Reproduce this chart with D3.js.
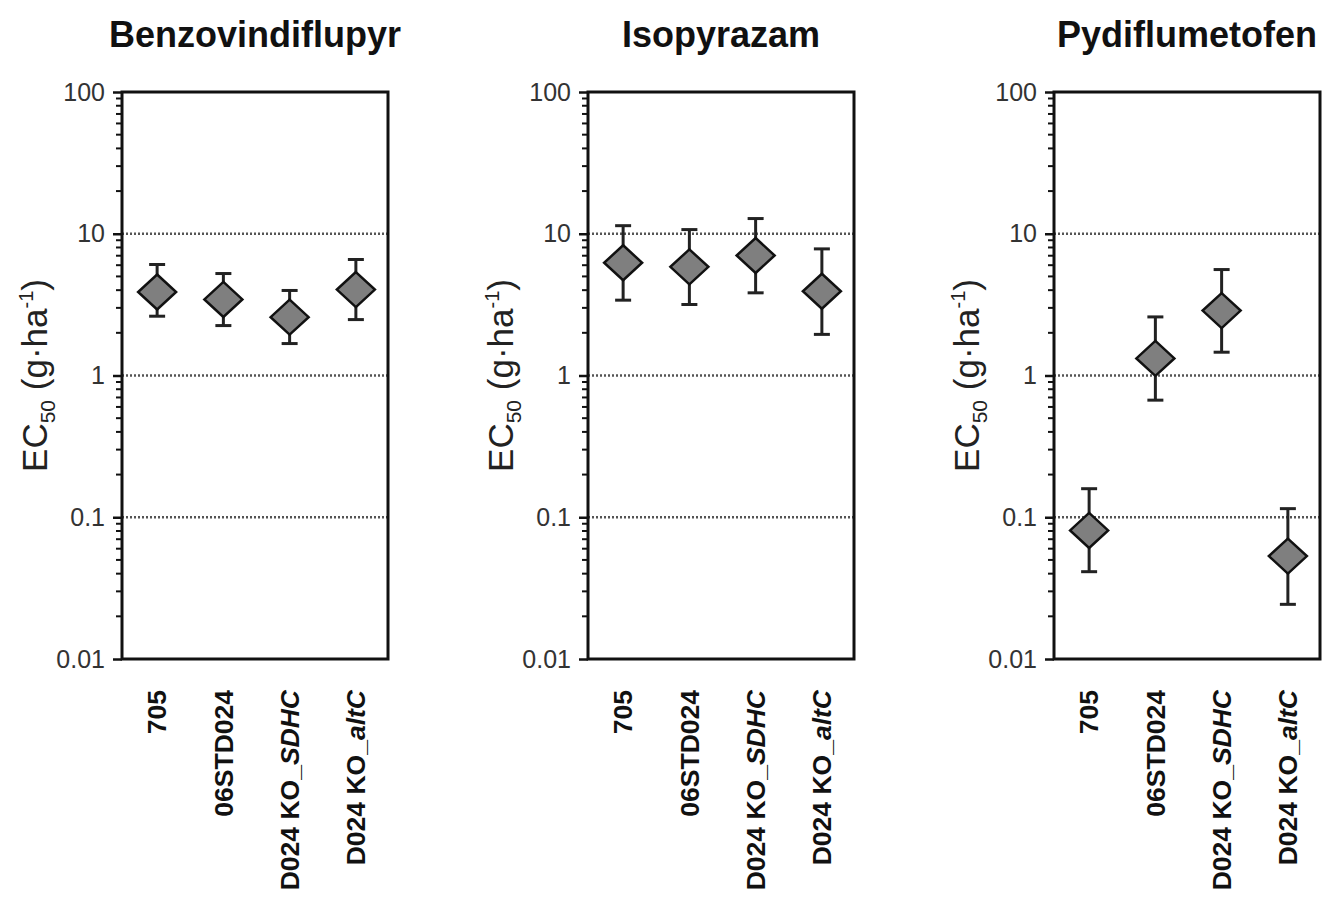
<!DOCTYPE html>
<html>
<head>
<meta charset="utf-8">
<script src="https://cdn.jsdelivr.net/npm/d3@7"></script>
<style>
    body { margin: 0; background: #fff; }
    text { font-family: "Liberation Sans", Arial, sans-serif; }
</style>
</head>
<body>
<div id="chart"></div>
<script>
// data
const strainsPlain = ["705", "06STD024", "D024 KO_", "D024 KO_"]
const strainsItalic = ["", "", "SDHC", "altC"]
const fungicides = ["Benzovindiflupyr", "Isopyrazam", "Pydiflumetofen"]
const yTicks = [0.01, 0.1, 1, 10, 100]
const gridValues = [0.1, 1, 10]

const benzoEC50 = [3.88, 3.44, 2.58, 4.04]
const benzoUpper = [6.07, 5.24, 3.98, 6.58]
const benzoLower = [2.62, 2.25, 1.68, 2.48]

const isoEC50 = [6.24, 5.84, 7.02, 3.93]
const isoUpper = [11.4, 10.7, 12.8, 7.82]
const isoLower = [3.4, 3.17, 3.83, 1.95]

const pydiEC50 = [0.0807, 1.32, 2.87, 0.0532]
const pydiUpper = [0.159, 2.59, 5.59, 0.115]
const pydiLower = [0.0413, 0.67, 1.46, 0.0243]

const panelData = [
    {ec50: benzoEC50, upper: benzoUpper, lower: benzoLower},
    {ec50: isoEC50, upper: isoUpper, lower: isoLower},
    {ec50: pydiEC50, upper: pydiUpper, lower: pydiLower},
]

//dimensions
const dimensions = {
    width: 1324,
    height: 899,
    plotWidth: 266,
    plotHeight: 567,
    top: 92,
    lefts: [122, 588, 1054],
}

const svg = d3.select("#chart")
    .append("svg")
    .attr("width", dimensions.width)
    .attr("height", dimensions.height)

//scales
const yScale = d3.scaleLog()
    .domain([0.01, 100])
    .range([dimensions.plotHeight, 0])
const xScale = d3.scalePoint()
    .domain(d3.range(strainsPlain.length))
    .range([2, 267])
    .padding(0.5)

// minor ticks 2..9 for every decade
const minorTicks = []
for (let decade of [0.01, 0.1, 1, 10]) {
    for (let m = 2; m <= 9; m++) minorTicks.push(decade * m)
}

fungicides.forEach((name, i) => {
    const g = svg.append("g")
        .attr("transform", "translate(" + dimensions.lefts[i] + "," + dimensions.top + ")")
    const data = panelData[i]

    // title
    g.append("text")
        .attr("x", dimensions.plotWidth / 2)
        .attr("y", 47 - dimensions.top)
        .attr("text-anchor", "middle")
        .attr("font-size", 36)
        .attr("font-weight", "bold")
        .attr("fill", "#111")
        .text(name)

    // grid
    g.selectAll(".grid")
        .data(gridValues)
        .join("line")
        .attr("x1", 0)
        .attr("x2", dimensions.plotWidth)
        .attr("y1", d => yScale(d))
        .attr("y2", d => yScale(d))
        .attr("stroke", "#555")
        .attr("stroke-width", 2.5)
        .attr("stroke-dasharray", "2,2")

    // y axis
    const yAxis = g.append("g")
        .call(d3.axisLeft(yScale).tickValues(yTicks).tickFormat(d3.format("~g")).tickSize(9).tickPadding(8))
    yAxis.select(".domain").remove()
    yAxis.selectAll(".tick line").attr("stroke", "#111").attr("stroke-width", 2.5)
    yAxis.selectAll(".tick text")
        .attr("font-size", 25)
        .attr("fill", "#333")
        .attr("font-family", "Liberation Sans, Arial, sans-serif")
    g.selectAll(".minor")
        .data(minorTicks)
        .join("line")
        .attr("x1", -6)
        .attr("x2", 0)
        .attr("y1", d => yScale(d))
        .attr("y2", d => yScale(d))
        .attr("stroke", "#111")
        .attr("stroke-width", 2)

    // y label
    const yLabel = g.append("text")
        .attr("transform", "translate(-75," + (dimensions.plotHeight / 2) + ") rotate(-90)")
        .attr("text-anchor", "middle")
        .attr("font-size", 35)
        .attr("fill", "#222")
    yLabel.append("tspan").text("EC")
    yLabel.append("tspan").attr("font-size", 21).attr("dy", 8).text("50")
    yLabel.append("tspan").attr("dy", -8).text(" (g·ha")
    yLabel.append("tspan").attr("font-size", 20).attr("dy", -14).text("-1")
    yLabel.append("tspan").attr("dy", 14).text(")")

    // error bars
    const idx = d3.range(data.ec50.length)
    g.selectAll(".err")
        .data(idx)
        .join("line")
        .attr("x1", d => xScale(d))
        .attr("x2", d => xScale(d))
        .attr("y1", d => yScale(data.upper[d]))
        .attr("y2", d => yScale(data.lower[d]))
        .attr("stroke", "#222")
        .attr("stroke-width", 3)
    for (let key of ["upper", "lower"]) {
        g.selectAll(".cap-" + key)
            .data(idx)
            .join("line")
            .attr("x1", d => xScale(d) - 8)
            .attr("x2", d => xScale(d) + 8)
            .attr("y1", d => yScale(data[key][d]))
            .attr("y2", d => yScale(data[key][d]))
            .attr("stroke", "#222")
            .attr("stroke-width", 3)
    }

    // diamonds
    g.selectAll(".diamond")
        .data(idx)
        .join("path")
        .attr("transform", d => "translate(" + xScale(d) + "," + yScale(data.ec50[d]) + ")")
        .attr("d", "M0,-17.5L19,0L0,17.5L-19,0Z")
        .attr("fill", "#7f7f7f")
        .attr("stroke", "#111")
        .attr("stroke-width", 2.5)
        .attr("stroke-linejoin", "miter")

    // frame
    g.append("rect")
        .attr("width", dimensions.plotWidth)
        .attr("height", dimensions.plotHeight)
        .attr("fill", "none")
        .attr("stroke", "#111")
        .attr("stroke-width", 3)

    // x labels
    idx.forEach(d => {
        const t = g.append("text")
            .attr("transform", "translate(" + xScale(d) + "," + (dimensions.plotHeight + 31) + ") rotate(-90)")
            .attr("text-anchor", "end")
            .attr("dy", "0.35em")
            .attr("font-size", 26.5)
            .attr("font-weight", "bold")
            .attr("fill", "#111")
        t.append("tspan").text(strainsPlain[d])
        if (strainsItalic[d] !== "") {
            t.append("tspan").attr("font-style", "italic").text(strainsItalic[d])
        }
    })
})
</script>
</body>
</html>
